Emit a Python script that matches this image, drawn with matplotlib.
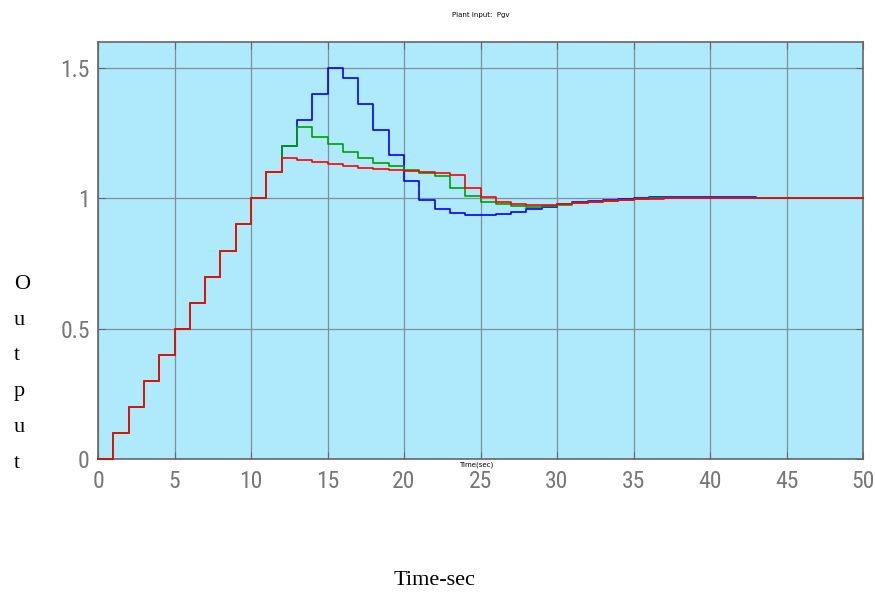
import matplotlib.pyplot as plt
from matplotlib import font_manager

# sample times (one value held per second)
time = list(range(0, 51))

ramp = [0.0, 0.1, 0.2, 0.3, 0.4, 0.5, 0.6, 0.7, 0.8, 0.9, 1.0, 1.1]

blue_tail = [1.2, 1.3, 1.4, 1.5, 1.462, 1.363, 1.261, 1.166, 1.066, 0.992,
             0.959, 0.944, 0.938, 0.938, 0.940, 0.948, 0.958, 0.968, 0.978,
             0.985, 0.991, 0.995, 0.999, 1.002, 1.004, 1.004, 1.004, 1.004,
             1.004, 1.004, 1.004, 1.0, 1.0, 1.0, 1.0, 1.0, 1.0, 1.0, 1.0]
green_tail = [1.2, 1.274, 1.237, 1.207, 1.179, 1.156, 1.137, 1.123, 1.107,
              1.098, 1.085, 1.041, 1.010, 0.987, 0.977, 0.972, 0.968, 0.970,
              0.975, 0.983, 0.987, 0.989, 0.995, 0.999, 1.0, 1.0, 1.0, 1.0,
              1.0, 1.0, 1.0, 1.0, 1.0, 1.0, 1.0, 1.0, 1.0, 1.0, 1.0]
red_tail = [1.154, 1.146, 1.138, 1.131, 1.123, 1.117, 1.114, 1.109, 1.104,
            1.102, 1.099, 1.088, 1.041, 1.006, 0.987, 0.978, 0.976, 0.976,
            0.978, 0.982, 0.985, 0.991, 0.995, 0.997, 0.997, 1.0, 1.0, 1.0,
            1.0, 1.0, 1.0, 1.0, 1.0, 1.0, 1.0, 1.0, 1.0, 1.0, 1.0]

blue = ramp + blue_tail
green = ramp + green_tail
red = ramp + red_tail

xticks = [0, 5, 10, 15, 20, 25, 30, 35, 40, 45, 50]
yticks = [0, 0.5, 1, 1.5]
ytick_labels = ['0', '0.5', '1', '1.5']


def narrow_font():
    names = {f.name for f in font_manager.fontManager.ttflist}
    for cand in ['Liberation Sans Narrow', 'DejaVu Sans Condensed',
                 'Roboto Condensed', 'Open Sans Condensed']:
        if cand in names:
            return cand
    return 'DejaVu Sans'


def main():
    tick_font = narrow_font()
    fig = plt.figure(figsize=(8.75, 6), dpi=100)
    ax = fig.add_axes([0.112, 0.235, 0.8743, 0.695])
    ax.set_facecolor('#aeeafc')

    ax.plot(time, blue, color='#0000ff', lw=1.2, drawstyle='steps-post',
            clip_on=False, zorder=3)
    ax.plot(time, green, color='#00a000', lw=1.2, drawstyle='steps-post',
            clip_on=False, zorder=3)
    ax.plot(time, red, color='#ff0000', lw=1.2, drawstyle='steps-post',
            clip_on=False, zorder=3)

    ax.set_xlim(0, 50)
    ax.set_ylim(0, 1.6)
    ax.set_xticks(xticks)
    ax.set_yticks(yticks)
    ax.set_yticklabels(ytick_labels)
    ax.grid(True, color='#7f8f96', lw=0.9)
    ax.tick_params(direction='in', top=True, right=True, length=5,
                   color='#666666', labelcolor='#777777', labelsize=17)
    ax.tick_params(axis='x', pad=8)
    ax.tick_params(axis='y', pad=6)
    for lab in ax.get_xticklabels() + ax.get_yticklabels():
        lab.set_family(tick_font)
    for sp in ax.spines.values():
        sp.set_color('#666666')
        sp.set_linewidth(1.2)
        sp.set_zorder(2.5)

    ax.set_title('Plant Input:  Pgv', fontsize=5, pad=18)
    fig.text(0.544, 0.222, 'Time(sec)', fontsize=5, ha='center')

    # stacked y label and x label as in the document
    fig.text(0.016, 0.212, 'O\nu\nt\np\nu\nt', family='Liberation Serif',
             fontsize=16, linespacing=2.2, ha='left', va='bottom')
    fig.text(0.497, 0.017, 'Time-sec', family='Liberation Serif',
             fontsize=16, ha='center', va='bottom')

    fig.savefig('out.png', dpi=100)


if __name__ == "__main__":
    main()
